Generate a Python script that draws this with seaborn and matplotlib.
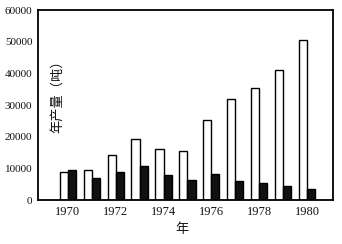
import matplotlib
matplotlib.use("Agg")
import matplotlib.pyplot as plt
import seaborn as sns
import pandas as pd

years = [1970, 1971, 1972, 1973, 1974, 1975, 1976, 1977, 1978, 1979, 1980]
series_a = [8750, 9600, 14200, 19400, 16000, 15600, 25200, 32000, 35500, 41100, 50500]
series_b = [9600, 7100, 9000, 10700, 8000, 6250, 8100, 5900, 5400, 4300, 3500]
series_names = ["A", "B"]
y_ticks = [0, 10000, 20000, 30000, 40000, 50000, 60000]
y_tick_labels = ["0", "10000", "20000", "30000", "40000", "50000", "60000"]
x_tick_labels = ["1970", "", "1972", "", "1974", "", "1976", "", "1978", "", "1980"]

df = pd.DataFrame({
    "year": [str(y) for y in years] * 2,
    "value": series_a + series_b,
    "series": [series_names[0]] * len(years) + [series_names[1]] * len(years),
})

sns.set_theme(style="white")
plt.rcParams["font.family"] = ["Liberation Serif", "Noto Sans CJK SC"]

fig = plt.figure(figsize=(3.42, 2.44), dpi=100)
ax = fig.add_axes([0.111, 0.180, 0.863, 0.779])

sns.barplot(data=df, x="year", y="value", hue="series",
            palette={"A": "white", "B": "#111111"}, edgecolor="black",
            linewidth=1.0, width=0.68, ax=ax, legend=False)

ax.set_xlim(-1.25, 11.09)
ax.set_ylim(0, 60000)
ax.set_yticks(y_ticks)
ax.set_yticklabels(y_tick_labels, fontsize=8)
ax.set_xticks(range(len(years)))
ax.set_xticklabels(x_tick_labels, fontsize=9)
ax.tick_params(axis="y", direction="out", length=3, width=1, color="black", pad=1, labelcolor="#111111")
ax.tick_params(axis="x", length=0, pad=4, labelcolor="#111111")
ax.set_xlabel("")
ax.set_ylabel("")
for s in ax.spines.values():
    s.set_color("black")
    s.set_linewidth(1.3)
    s.set_visible(True)

ax.text(0.065, 0.56, "年产量（吨）", transform=ax.transAxes, rotation=90,
        ha="center", va="center", fontsize=9.5, family=["Noto Sans CJK SC"], color="#111111")
fig.text(182 / 342, 1 - 230 / 244, "年", ha="center", va="center",
         fontsize=9.5, family=["Noto Sans CJK SC"], color="#111111")

fig.savefig("out.png", dpi=100)
